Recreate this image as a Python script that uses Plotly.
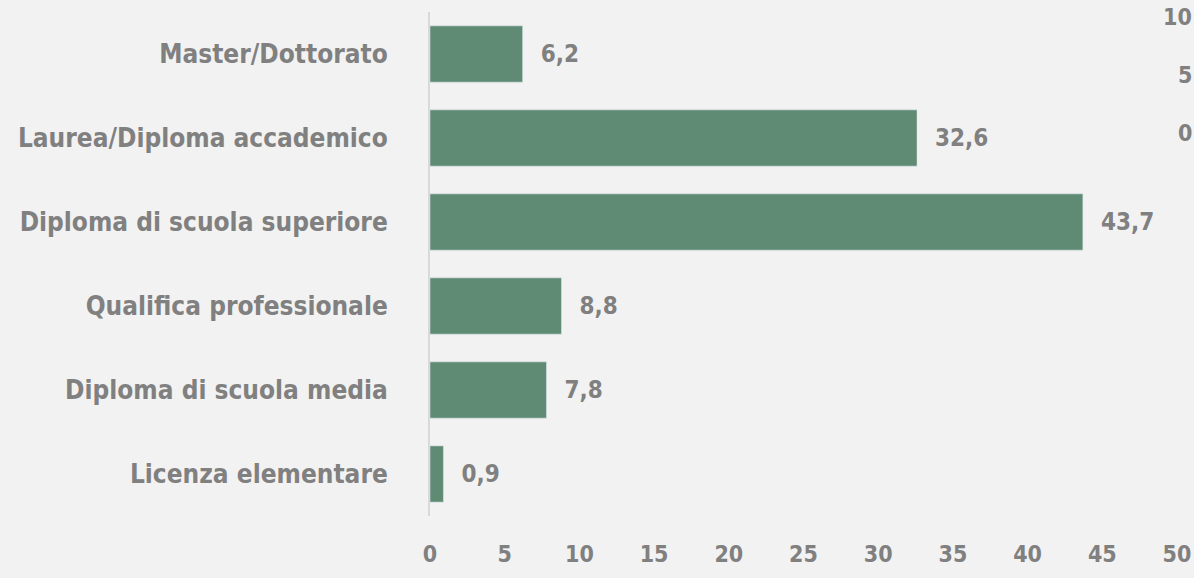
import plotly.graph_objects as go

categories = ["Licenza elementare", "Diploma di scuola media", "Qualifica professionale",
              "Diploma di scuola superiore", "Laurea/Diploma accademico", "Master/Dottorato"]
values = [0.9, 7.8, 8.8, 43.7, 32.6, 6.2]
x_ticks = [0, 5, 10, 15, 20, 25, 30, 35, 40, 45, 50]
fragment_labels = ["10", "5", "0"]

FONT = "DejaVu Sans Condensed, Roboto, sans-serif"
GRAY = "#808080"
BG = "#f2f2f2"

fig = go.Figure(go.Bar(
    y=categories, x=values, orientation="h",
    marker=dict(color="#5f8b74"),
    text=values, texttemplate="\u00a0\u00a0%{x:.1f}", textposition="outside",
    textfont=dict(family=FONT, size=24, color=GRAY, weight="bold"),
    cliponaxis=False,
))

fig.update_layout(
    width=1194, height=578,
    paper_bgcolor=BG, plot_bgcolor=BG,
    margin=dict(l=430, r=17, t=12, b=62, autoexpand=False),
    bargap=0.33,
    separators=",.",
    showlegend=False,
    font=dict(family=FONT, color=GRAY),
    xaxis=dict(range=[0, 50], tickvals=x_ticks, showgrid=False, zeroline=False,
               showline=False, ticks="outside", ticklen=17, tickcolor=BG,
               tickfont=dict(family=FONT, size=23, color=GRAY, weight="bold"),
               fixedrange=True),
    yaxis=dict(showline=True, linecolor="#d9d9d9", linewidth=2, showgrid=False,
               ticks="outside", ticklen=35, tickcolor=BG, automargin=False,
               tickfont=dict(family=FONT, size=26, color=GRAY, weight="bold")),
)

frag_y = [0.99, 0.875, 0.76]
for t, yy in zip(fragment_labels, frag_y):
    fig.add_annotation(text=t, xref="paper", yref="paper", x=1.0225, y=yy,
                       xanchor="right", yanchor="middle", showarrow=False,
                       font=dict(family=FONT, size=23, color=GRAY, weight="bold"))

fig.write_html("out.html", config={"displayModeBar": False},
               post_script="document.body.style.margin='0';document.body.style.overflow='hidden';")
